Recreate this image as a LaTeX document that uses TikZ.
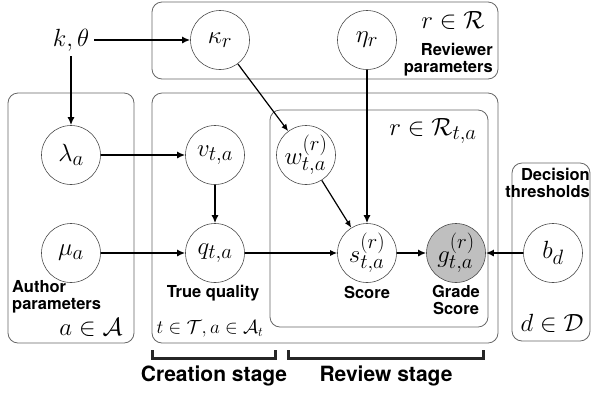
\RequirePackage{fix-cm}
\documentclass[tikz,border=0pt]{standalone}
\usepackage{fontspec}
\setsansfont{TeX Gyre Heros}
\usetikzlibrary{arrows.meta,positioning}
\tikzset{
  rv/.style={circle,draw=black!70,line width=0.6pt,minimum size=59pt,inner sep=0pt,font=\Huge},
  obsrv/.style={rv,fill=black!25},
  plate/.style={draw=black!60,line width=0.8pt,rounded corners=10pt},
  arr/.style={line width=2.2pt,-{Latex[length=8pt,width=7pt]}},
  arrthin/.style={line width=1.2pt,-{Latex[length=7pt,width=6pt]}},
  lab/.style={font=\sffamily\bfseries\fontsize{16.5}{17}\selectfont,inner sep=0pt,align=center},
  idx/.style={font=\Huge,inner sep=0pt},
  stage/.style={font=\sffamily\bfseries\fontsize{21}{24}\selectfont,inner sep=0pt},
  bracket/.style={line width=3pt,black!85},
}
\begin{document}
\begin{tikzpicture}[x=1pt,y=-1pt]
  \useasboundingbox (0,0) rectangle (591,392);
  % plates
  \draw[plate] (152,2) rectangle (498,79);
  \draw[plate] (8,93) rectangle (134,343);
  \draw[plate] (152,93) rectangle (498,343);
  \draw[plate] (270,110) rectangle (488,327);
  \draw[plate] (512,163) rectangle (590,341);
  % variables
  \node[idx,inner sep=5pt] (kt) at (71,40) {$k,\theta$};
  \node[rv] (kap) at (220,40) {$\kappa_r$};
  \node[rv] (eta) at (367,40) {$\eta_r$};
  \node[rv] (lam) at (71,155) {$\lambda_a$};
  \node[rv] (v) at (215,155) {$v_{t,a}$};
  \node[rv] (w) at (306,155) {$w_{t,a}^{(r)}$};
  \node[rv] (mu) at (71,253) {$\mu_a$};
  \node[rv] (q) at (215,253) {$q_{t,a}$};
  \node[rv] (s) at (367,253) {$s_{t,a}^{(r)}$};
  \node[obsrv] (g) at (456,253) {$g_{t,a}^{(r)}$};
  \node[rv] (b) at (553,253) {$b_d$};
  % edges
  \draw[arr] (kt) -- (kap);
  \draw[arr] (kt) -- (lam);
  \draw[arrthin] (kap) -- (w);
  \draw[arr] (eta) -- (s);
  \draw[arr] (lam) -- (v);
  \draw[arr] (v) -- (q);
  \draw[arr] (mu) -- (q);
  \draw[arrthin] (q) -- (s);
  \draw[arrthin] (w) -- (s);
  \draw[arr] (s) -- (g);
  \draw[arr] (b) -- (g);
  % plate labels
  \node[idx] (rset) at (453,20) {$r\in\mathcal{R}$};
  \node[lab,align=right,anchor=east] (revpar) at (493,60) {Reviewer\\parameters};
  \node[idx] (rtset) at (433,131) {$r\in\mathcal{R}_{t,a}$};
  \node[lab,align=right,anchor=east] (decpar) at (590,183) {Decision\\thresholds};
  \node[idx] (dset) at (552,323) {$d\in\mathcal{D}$};
  \node[lab,align=left,anchor=west] (autpar) at (12,297) {Author\\parameters};
  \node[idx] (aset) at (91,327) {$a\in\mathcal{A}$};
  \node[idx,font=\fontsize{19}{22}\selectfont] (taset) at (210,329) {$t\in\mathcal{T},a\in\mathcal{A}_t$};
  \node[lab] (qlab) at (213,293) {True quality};
  \node[lab] (slab) at (367,292) {Score};
  \node[lab] (glab) at (456,300) {Grade\\Score};
  % stages
  \draw[bracket] (152,350) -- (152,358) -- (275,358) -- (275,350);
  \draw[bracket] (288,350) -- (288,358) -- (483,358) -- (483,350);
  \node[stage] (crst) at (214,376) {Creation stage};
  \node[stage] (rvst) at (386,376) {Review stage};
\end{tikzpicture}
\end{document}
